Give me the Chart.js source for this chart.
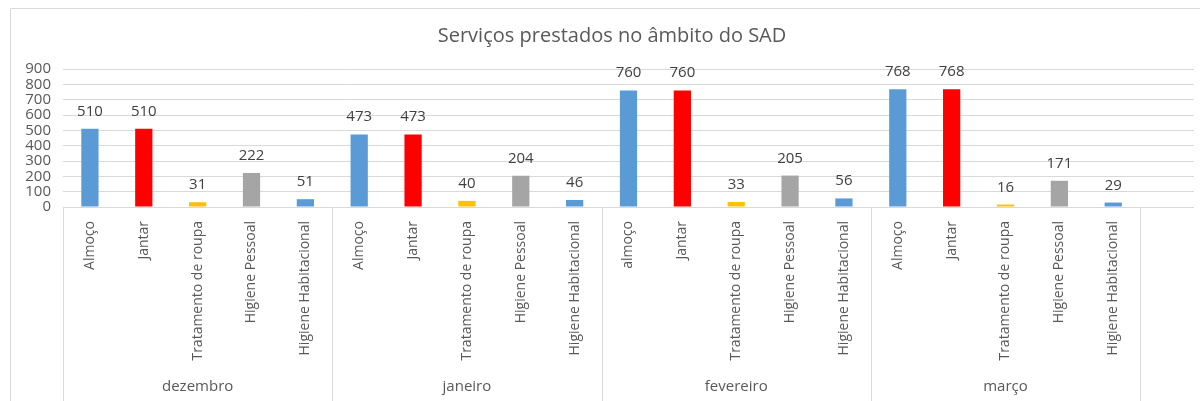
<!DOCTYPE html>
<html>
<head>
<meta charset="utf-8">
<script src="https://cdn.jsdelivr.net/npm/chart.js@4/dist/chart.umd.min.js"></script>
<style>
  html, body { margin: 0; padding: 0; background: #fff; }
  #wrap { width: 1200px; height: 401px; position: relative; }
</style>
</head>
<body>
<div id="wrap"><canvas id="myChart"></canvas></div>
<script>
const title = "Serviços prestados no âmbito do SAD";

const months = ["dezembro", "janeiro", "fevereiro", "março"];

const categories = [
  "Almoço", "Jantar", "Tratamento de roupa", "Higiene Pessoal", "Higiene Habitacional",
  "Almoço", "Jantar", "Tratamento de roupa", "Higiene Pessoal", "Higiene Habitacional",
  "almoço", "Jantar", "Tratamento de roupa", "Higiene Pessoal", "Higiene Habitacional",
  "Almoço", "Jantar", "Tratamento de roupa", "Higiene Pessoal", "Higiene Habitacional",
  "",
];

const values = [
  510, 510, 31, 222, 51,
  473, 473, 40, 204, 46,
  760, 760, 33, 205, 56,
  768, 768, 16, 171, 29,
  null,
];

const yTicks = [0, 100, 200, 300, 400, 500, 600, 700, 800, 900];

const serviceColors = ["#5B9BD5", "#FF0000", "#FFC000", "#A5A5A5", "#5B9BD5"];

const groupSize = 5;
const textGray = "#595959";
const lineGray = "#d9d9d9";
const font = "'Open Sans', 'DejaVu Sans', sans-serif";

const colors = categories.map((c, i) => serviceColors[i % groupSize]);

// chart frame, title, value labels and the month level of the axis
const extras = {
  id: "extras",
  afterDraw(chart) {
    const ctx = chart.ctx;
    const x = chart.scales.x;
    const area = chart.chartArea;
    ctx.save();

    ctx.strokeStyle = lineGray;
    ctx.lineWidth = 1;
    ctx.beginPath();
    ctx.moveTo(10.5, chart.height);
    ctx.lineTo(10.5, 8.5);
    ctx.lineTo(chart.width, 8.5);
    ctx.stroke();

    ctx.fillStyle = textGray;
    ctx.font = "20px " + font;
    ctx.textAlign = "center";
    ctx.textBaseline = "middle";
    ctx.fillText(title, 612, 36);

    // value labels
    ctx.fillStyle = "#404040";
    ctx.font = "15px " + font;
    ctx.textBaseline = "alphabetic";
    chart.getDatasetMeta(0).data.forEach((bar, i) => {
      if (values[i] == null) return;
      ctx.fillText(String(values[i]), bar.x, bar.y - 13);
    });

    // month separators + labels
    ctx.strokeStyle = lineGray;
    ctx.beginPath();
    for (let g = 0; g <= months.length; g++) {
      const px = Math.round(x.getPixelForValue(g * groupSize - 0.5)) + 0.5;
      ctx.moveTo(px, area.bottom);
      ctx.lineTo(px, chart.height);
    }
    ctx.stroke();

    ctx.fillStyle = textGray;
    ctx.font = "15px " + font;
    ctx.textBaseline = "middle";
    months.forEach((m, g) => {
      const cx = x.getPixelForValue(g * groupSize + (groupSize - 1) / 2);
      ctx.fillText(m, cx, 387);
    });

    ctx.restore();
  },
};

new Chart(document.getElementById("myChart"), {
  type: "bar",
  data: {
    labels: categories,
    datasets: [
      {
        data: values,
        backgroundColor: colors,
        barPercentage: 0.32,
        categoryPercentage: 1,
      },
    ],
  },
  options: {
    responsive: true,
    maintainAspectRatio: false,
    animation: false,
    layout: {
      padding: { top: 69, right: 6, bottom: 0, left: 0 },
    },
    plugins: {
      legend: { display: false },
      tooltip: { enabled: false },
    },
    scales: {
      x: {
        grid: { display: false, drawTicks: false },
        border: { display: false },
        ticks: {
          autoSkip: false,
          maxRotation: 90,
          minRotation: 90,
          padding: 14,
          color: textGray,
          font: { family: font, size: 14 },
        },
        afterFit(scale) {
          scale.height = 194;
        },
      },
      y: {
        min: 0,
        max: 900,
        afterBuildTicks(scale) {
          scale.ticks = yTicks.map((v) => ({ value: v }));
        },
        grid: { color: lineGray, drawTicks: false },
        border: { display: false },
        ticks: {
          autoSkip: false,
          padding: 12,
          color: textGray,
          font: { family: font, size: 15 },
        },
        afterFit(scale) {
          scale.width = 63;
        },
      },
    },
  },
  plugins: [extras],
});
</script>
</body>
</html>
